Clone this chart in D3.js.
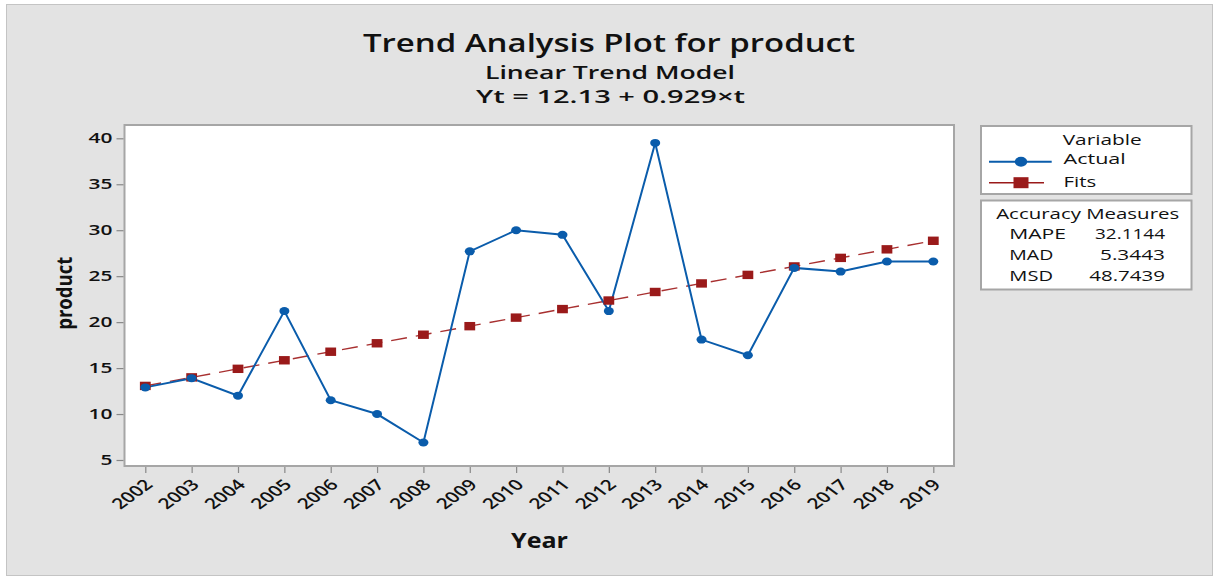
<!DOCTYPE html>
<html><head><meta charset="utf-8">
<script src="https://cdn.jsdelivr.net/npm/d3@7"></script>
<style>
html,body{margin:0;padding:0;background:#fff;}
svg text{font-family:"Open Sans","Noto Sans",sans-serif;fill:#111;}
</style></head>
<body>
<svg id="c" width="1215" height="577"></svg>
<script>
// ---- data ----
const years = [2002,2003,2004,2005,2006,2007,2008,2009,2010,2011,2012,2013,2014,2015,2016,2017,2018,2019];
const actual = [12.9,13.9,12.0,21.2,11.5,10.0,6.9,27.7,30.0,29.5,21.2,39.5,18.1,16.4,25.9,25.5,26.6,26.6];
const fits = [13.06,13.99,14.92,15.85,16.78,17.70,18.63,19.56,20.49,21.42,22.35,23.28,24.21,25.14,26.06,26.99,27.92,28.85];
const yTicks = [5,10,15,20,25,30,35,40];
const measureNames = ["MAPE","MAD","MSD"];
const measureValues = ["32.1144","5.3443","48.7439"];
const legendNames = ["Actual","Fits"];

const svg = d3.select("#c");
const BLUE = "#0a5cab", RED = "#9a1a1a";

// background
svg.append("rect").attr("x",0).attr("y",0).attr("width",1215).attr("height",577).attr("fill","#fff");
svg.append("rect").attr("x",6.5).attr("y",4.5).attr("width",1206).attr("height",571)
  .attr("fill","#e3e3e3").attr("stroke","#c4c4c4").attr("stroke-width",1);

// plot area
const P = {l:124.5, r:954, t:125, b:466};
svg.append("rect").attr("x",P.l).attr("y",P.t).attr("width",P.r-P.l).attr("height",P.b-P.t)
  .attr("fill","#fff").attr("stroke","#a6a6a6").attr("stroke-width",2);

const x = d3.scalePoint().domain(years).range([145.3, 933.3]);
const y = d3.scaleLinear().domain([5,40]).range([460, 138.3]);

// y axis
const gy = svg.append("g").attr("transform",`translate(${P.l-1},0)`)
  .call(d3.axisLeft(y).tickValues(yTicks).tickSize(7).tickPadding(4));
gy.select(".domain").remove();
gy.selectAll(".tick line").attr("stroke","#888").attr("stroke-width",1.2);
gy.selectAll(".tick text").attr("font-size",13.5).attr("font-weight",600).attr("fill","#111")
  .attr("font-family","'Open Sans',sans-serif")
  .attr("transform","scale(1.55,1)")
  .attr("x",-11/1.55);

// x axis
const gx = svg.append("g").attr("transform",`translate(0,${P.b+1})`)
  .call(d3.axisBottom(x).tickSize(6).tickFormat(d=>String(d)));
gx.select(".domain").remove();
gx.selectAll(".tick line").attr("stroke","#888").attr("stroke-width",1.2);
gx.selectAll(".tick text").attr("font-size",15).attr("font-weight",600).attr("fill","#111")
  .attr("font-family","'Open Sans',sans-serif")
  .attr("text-anchor","end").attr("x",0).attr("y",0).attr("dy","0.35em")
  .attr("transform","translate(3,15) scale(1.38,1) rotate(-45)");

// fits line (dashed)
const line = d3.line().x((d,i)=>x(years[i])).y(d=>y(d));
svg.append("path").datum(fits).attr("d",line).attr("fill","none")
  .attr("stroke","#a83030").attr("stroke-width",1.4).attr("stroke-dasharray","16,9");
// actual line
svg.append("path").datum(actual).attr("d",line).attr("fill","none")
  .attr("stroke",BLUE).attr("stroke-width",2);

// fits markers
svg.selectAll("rect.fit").data(fits).enter().append("rect").attr("class","fit")
  .attr("x",(d,i)=>x(years[i])-5.4).attr("y",d=>y(d)-4.2)
  .attr("width",10.8).attr("height",8.4).attr("fill",RED);
// actual markers
svg.selectAll("ellipse.act").data(actual).enter().append("ellipse").attr("class","act")
  .attr("cx",(d,i)=>x(years[i])).attr("cy",d=>y(d)).attr("rx",5).attr("ry",4).attr("fill",BLUE);

// titles
function txt(t,xx,yy,size,weight,len,anchor){
  const e = svg.append("text").attr("x",xx).attr("y",yy).attr("font-size",size)
    .attr("font-weight",weight).attr("text-anchor",anchor||"middle").text(t);
  if(len) e.attr("textLength",len).attr("lengthAdjust","spacingAndGlyphs");
  return e;
}
txt("Trend Analysis Plot for product",609,51.7,26,600,492);
txt("Linear Trend Model",610,79.3,18.5,600,250);
txt("Yt = 12.13 + 0.929\u00d7t",610.5,103.3,18.5,600,269);

// axis titles
txt("Year",539.5,548.3,22,700,57);
svg.append("text").attr("transform","translate(72,293.3) rotate(-90)")
  .attr("text-anchor","middle").attr("font-size",22).attr("font-weight",700)
  .attr("textLength",73).attr("lengthAdjust","spacingAndGlyphs").text("product");

// legend box
svg.append("rect").attr("x",981).attr("y",126).attr("width",210.5).attr("height",68)
  .attr("fill","#fff").attr("stroke","#a6a6a6").attr("stroke-width",2);
txt("Variable",1102.2,145,15,500,79);
const legY = [161.7,182.7];
const legW = [62.3,32.7];
legendNames.forEach((n,i)=>{
  svg.append("line").attr("x1",989).attr("x2",i===0?1051.7:1044).attr("y1",legY[i]).attr("y2",legY[i])
    .attr("stroke",i===0?BLUE:RED).attr("stroke-width",i===0?2:1.6);
  if(i===0) svg.append("ellipse").attr("cx",1021).attr("cy",legY[i]).attr("rx",6.2).attr("ry",5).attr("fill",BLUE);
  else svg.append("rect").attr("x",1013.5).attr("y",legY[i]-5.5).attr("width",15).attr("height",11).attr("fill",RED);
  txt(n,1063.5,legY[i]+3+ (i===0?-0.4:1.3),15,500,legW[i],"start");
});

// accuracy box
svg.append("rect").attr("x",981).attr("y",200.5).attr("width",210.5).attr("height",89)
  .attr("fill","#fff").attr("stroke","#a6a6a6").attr("stroke-width",2);
txt("Accuracy Measures",1087.7,219.3,15,500,183);
const mY = [239,260,280.7];
const nW = [56.7,44,43.7];
const vW = [70,65,75.7];
measureNames.forEach((n,i)=>{
  txt(n,1009.3,mY[i],15,500,nW[i],"start");
  txt(measureValues[i],1165,mY[i],15,500,vW[i],"end");
});
</script>
</body></html>
